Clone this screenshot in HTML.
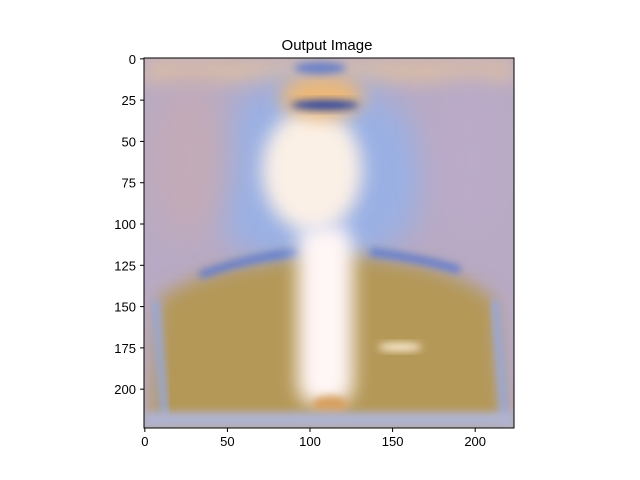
<!DOCTYPE html>
<html><head><meta charset="utf-8"><style>
body{margin:0;background:#fff;}
svg{display:block;font-family:"Liberation Sans","DejaVu Sans",sans-serif;}
</style></head><body>
<svg width="640" height="480" viewBox="0 0 640 480">
<defs>
<clipPath id="clip"><rect x="144" y="58" width="370" height="370"/></clipPath>
<filter id="b8" x="-50%" y="-50%" width="200%" height="200%"><feGaussianBlur stdDeviation="9"/></filter>
<filter id="b4" x="-50%" y="-50%" width="200%" height="200%"><feGaussianBlur stdDeviation="4"/></filter>
<filter id="b14" x="-50%" y="-50%" width="200%" height="200%"><feGaussianBlur stdDeviation="16"/></filter>
</defs>
<text x="327" y="50" font-size="15" text-anchor="middle">Output Image</text>
<g clip-path="url(#clip)">
<rect x="144" y="58" width="370" height="370" fill="#b8aac4"/>
<rect x="144" y="58" width="370" height="25" fill="#d8bca8" filter="url(#b8)"/>
<ellipse cx="315" cy="175" rx="110" ry="100" fill="#9ab0e4" filter="url(#b14)"/>
<ellipse cx="190" cy="160" rx="40" ry="80" fill="#c2aab8" filter="url(#b14)"/>
<ellipse cx="470" cy="160" rx="40" ry="80" fill="#baaac8" filter="url(#b14)"/>
<path d="M150 428 L158 300 Q190 275 250 265 L300 255 L360 255 L420 265 Q470 278 495 300 L505 428 Z" fill="#b49858" filter="url(#b8)"/>
<path d="M200 275 Q250 257 300 252" stroke="#5878d4" stroke-width="7" fill="none" filter="url(#b4)"/>
<path d="M370 252 Q420 258 460 270" stroke="#5878d4" stroke-width="7" fill="none" filter="url(#b4)"/>
<path d="M155 300 L165 420" stroke="#98a8d8" stroke-width="8" fill="none" filter="url(#b4)"/>
<path d="M495 300 L505 420" stroke="#98a8d8" stroke-width="8" fill="none" filter="url(#b4)"/>
<ellipse cx="312" cy="170" rx="50" ry="62" fill="#fbf0e6" filter="url(#b8)"/>
<rect x="298" y="225" width="55" height="180" rx="20" fill="#fff6f6" filter="url(#b8)"/>
<ellipse cx="322" cy="97" rx="42" ry="22" fill="#ecb878" filter="url(#b8)"/>
<ellipse cx="325" cy="105" rx="34" ry="5" fill="#2a44a0" filter="url(#b4)"/>
<ellipse cx="320" cy="68" rx="26" ry="6" fill="#6a80c8" filter="url(#b4)"/>
<ellipse cx="400" cy="347" rx="22" ry="4" fill="#fff0d8" filter="url(#b4)"/>
<ellipse cx="330" cy="405" rx="18" ry="9" fill="#d8a060" filter="url(#b4)"/>
<rect x="144" y="412" width="370" height="16" fill="#b0b4d0" filter="url(#b4)"/>
</g>
<rect x="144" y="58" width="370" height="370" fill="none" stroke="#000" stroke-width="1"/>
<g id="ticks" font-size="13"></g>
<script>
const xTicks=[0,50,100,150,200];
const yTicks=[0,25,50,75,100,125,150,175,200];
const sc=370/224;
const xs=v=>144+(v+0.5)*sc, ys=v=>58+(v+0.5)*sc;
const g=document.getElementById('ticks');
const NS='http://www.w3.org/2000/svg';
xTicks.forEach(v=>{
 const l=document.createElementNS(NS,'line');
 l.setAttribute('x1',xs(v));l.setAttribute('x2',xs(v));l.setAttribute('y1',428);l.setAttribute('y2',432);l.setAttribute('stroke','#000');
 
 
 g.appendChild(l);
 const t=document.createElementNS(NS,'text');
 t.setAttribute('x',xs(v));t.setAttribute('y',446);t.setAttribute('text-anchor','middle');t.textContent=v;
 
 
 g.appendChild(t);
});
yTicks.forEach(v=>{
 const l=document.createElementNS(NS,'line');
 l.setAttribute('x1',140);l.setAttribute('x2',144);l.setAttribute('y1',ys(v));l.setAttribute('y2',ys(v));l.setAttribute('stroke','#000');
 
 
 g.appendChild(l);
 const t=document.createElementNS(NS,'text');
 t.setAttribute('x',136);t.setAttribute('y',ys(v)+5);t.setAttribute('text-anchor','end');t.textContent=v;
 
 
 g.appendChild(t);
});
</script>
</svg>
</body></html>
